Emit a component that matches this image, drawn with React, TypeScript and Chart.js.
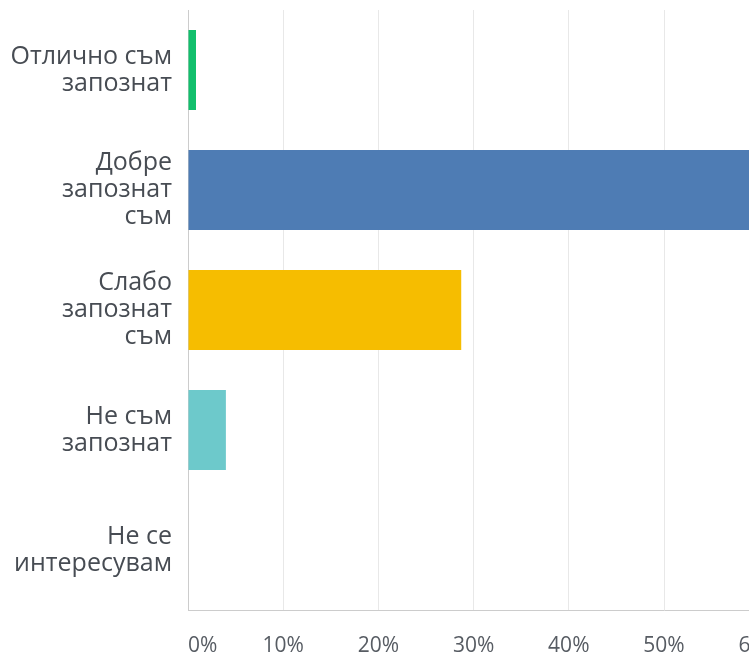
import React, { useEffect, useRef } from "react";
import { Chart, registerables } from "chart.js";

Chart.register(...registerables);

const categories: string[][] = [
  ["Отлично съм", "запознат"],
  ["Добре", "запознат", "съм"],
  ["Слабо", "запознат", "съм"],
  ["Не съм", "запознат"],
  ["Не се", "интересувам"],
];
const values: number[] = [0.84, 66.5, 28.7, 3.98, 0];
const barColors: string[] = ["#12bf6c", "#4e7cb4", "#f6bd00", "#6dc9cb", "#a0a0a0"];
const xTickStep = 10;
const xMax = 100;

export default function App() {
  const ref = useRef<HTMLCanvasElement | null>(null);
  useEffect(() => {
    if (!ref.current) return;
    const chart = new Chart(ref.current, {
      type: "bar",
      data: {
        labels: categories,
        datasets: [
          {
            data: values,
            backgroundColor: barColors,
            borderWidth: 0,
            categoryPercentage: 1,
            barPercentage: 0.667,
          },
        ],
      },
      options: {
        indexAxis: "y",
        animation: false,
        responsive: false,
        layout: { padding: { top: 10, right: 20, left: 0, bottom: 0 } },
        plugins: { legend: { display: false }, tooltip: { enabled: false } },
        scales: {
          x: {
            min: 0,
            max: xMax,
            grid: { color: "#e8e8e8", drawTicks: false, lineWidth: 1 },
            border: { display: true, color: "#cccccc", width: 1 },
            ticks: {
              stepSize: xTickStep,
              padding: 23,
              align: "inner",
              color: "#575c63",
              font: { family: "'Open Sans', 'Noto Sans', sans-serif", size: 21 },
              callback: (v: any) => v + "%",
            },
            afterFit: (s: any) => {
              s.height = 45;
              s.paddingLeft = 0;
            },
          },
          y: {
            grid: { display: false, drawTicks: false },
            border: { display: true, color: "#cccccc", width: 1 },
            ticks: {
              padding: 16,
              color: "#474c53",
              font: { family: "'Open Sans', 'Noto Sans', sans-serif", size: 25, lineHeight: 1.09 },
            },
            afterFit: (s: any) => {
              s.width = 188;
              s.paddingTop = 0;
              s.paddingBottom = 0;
            },
          },
        },
      },
    });
    return () => chart.destroy();
  }, []);
  return (
    <div
      style={{
        position: "absolute",
        left: 0,
        top: 0,
        width: 749,
        height: 655,
        overflow: "hidden",
        background: "#ffffff",
      }}
    >
      <canvas ref={ref} width={1163} height={655} style={{ display: "block" }} />
    </div>
  );
}
